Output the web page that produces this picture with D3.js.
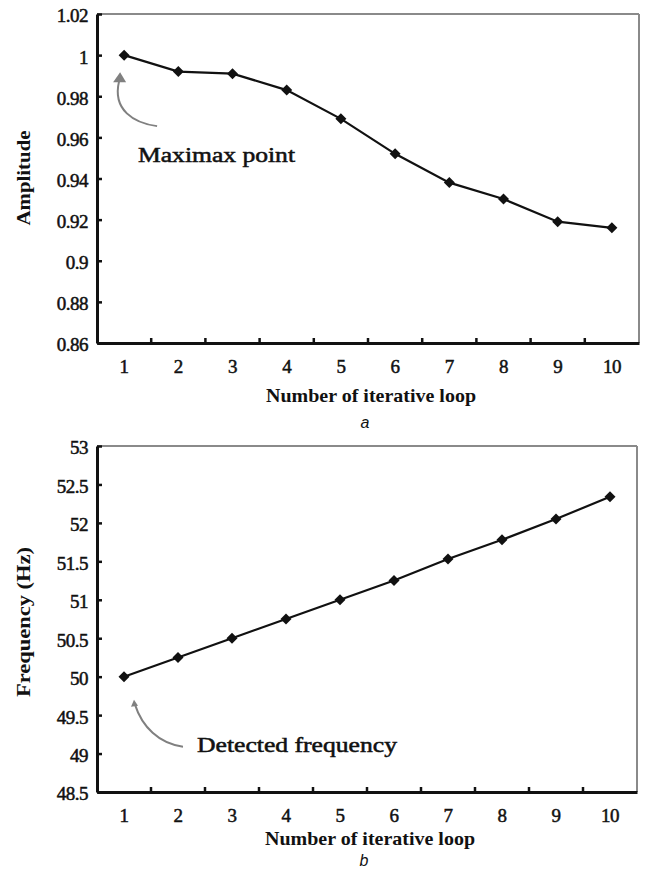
<!DOCTYPE html>
<html>
<head>
<meta charset="utf-8">
<script src="https://cdn.jsdelivr.net/npm/d3@7"></script>
<style>
  html, body { margin: 0; padding: 0; background: #fff; }
  svg { display: block; }
  text { font-family: "Liberation Serif", "Times New Roman", serif; fill: #111; }
  text.caption { font-family: "Liberation Sans", Arial, sans-serif; font-style: italic; }
</style>
</head>
<body>
<svg id="chart" width="645" height="870"></svg>
<script>
// Iteration index shared by both panels
const loops = [1, 2, 3, 4, 5, 6, 7, 8, 9, 10];

// Panel a: amplitude per iterative loop
const amplitude = [1.0, 0.992, 0.991, 0.983, 0.969, 0.952, 0.938, 0.930, 0.919, 0.916];
const ampTicks = [0.86, 0.88, 0.9, 0.92, 0.94, 0.96, 0.98, 1, 1.02];
const ampTickLabels = ["0.86", "0.88", "0.9", "0.92", "0.94", "0.96", "0.98", "1", "1.02"];

// Panel b: detected frequency per iterative loop
const frequency = [50.0, 50.25, 50.5, 50.75, 51.0, 51.25, 51.53, 51.78, 52.05, 52.34];
const freqTicks = [48.5, 49, 49.5, 50, 50.5, 51, 51.5, 52, 52.5, 53];
const freqTickLabels = ["48.5", "49", "49.5", "50", "50.5", "51", "51.5", "52", "52.5", "53"];

const svg = d3.select("#chart");

function panel(cfg) {
  const g = svg.append("g");
  const { left, right, top, bottom } = cfg.box;

  const x = d3.scaleBand().domain(loops).range([left, right]);
  const y = d3.scaleLinear().domain(cfg.domain).range([bottom, top]);

  // frame: thin grey top/right, heavy black left/bottom
  g.append("line").attr("x1", left).attr("x2", right).attr("y1", top).attr("y2", top)
    .attr("stroke", "#8a8a8a").attr("stroke-width", 2);
  g.append("line").attr("x1", right).attr("x2", right).attr("y1", top).attr("y2", bottom)
    .attr("stroke", "#8a8a8a").attr("stroke-width", 2);

  // y axis with inward ticks
  const yAxis = d3.axisLeft(y).tickValues(cfg.ticks)
    .tickFormat((d, i) => cfg.tickLabels[i]).tickSizeInner(-5).tickSizeOuter(0).tickPadding(9);
  const ya = g.append("g").attr("transform", `translate(${left},0)`).call(yAxis);
  ya.select(".domain").attr("stroke", "#111").attr("stroke-width", 3);
  ya.selectAll(".tick line").attr("stroke", "#111").attr("stroke-width", 2.5);
  ya.selectAll(".tick text").attr("font-size", 19).attr("fill", "#111").attr("dy", "0.42em")
    .attr("letter-spacing", "-0.5px").attr("stroke", "#111").attr("stroke-width", 0.5);

  // x axis: labels at band centres, ticks at band boundaries pointing up
  const xAxis = d3.axisBottom(x).tickSize(0).tickPadding(17);
  const xa = g.append("g").attr("transform", `translate(0,${bottom})`).call(xAxis);
  xa.select(".domain").attr("stroke", "#111").attr("stroke-width", 3);
  xa.selectAll(".tick text").attr("font-size", 19).attr("fill", "#111")
    .attr("letter-spacing", "-0.5px").attr("stroke", "#111").attr("stroke-width", 0.5);
  g.append("g").selectAll("line").data(loops.slice(1)).join("line")
    .attr("x1", d => x(d)).attr("x2", d => x(d))
    .attr("y1", bottom).attr("y2", bottom - 5)
    .attr("stroke", "#111").attr("stroke-width", 2.5);

  // titles
  g.append("text").attr("x", (left + right) / 2 + 3).attr("y", cfg.xTitleY)
    .attr("text-anchor", "middle").attr("font-size", 19).attr("font-weight", "bold")
    .attr("textLength", 210).attr("lengthAdjust", "spacingAndGlyphs")
    .text("Number of iterative loop");
  g.append("text")
    .attr("transform", `translate(30,${cfg.yTitleCy}) rotate(-90)`)
    .attr("text-anchor", "middle").attr("font-size", 19).attr("font-weight", "bold")
    .attr("textLength", cfg.yTitleLen).attr("lengthAdjust", "spacingAndGlyphs")
    .text(cfg.yTitle);
  g.append("text").attr("class", "caption")
    .attr("x", (left + right) / 2 - 3).attr("y", cfg.captionY)
    .attr("text-anchor", "middle").attr("font-size", 16).text(cfg.caption);

  // data line with diamond markers
  const pts = loops.map((d, i) => [x(d) + x.bandwidth() / 2, y(cfg.values[i])]);
  g.append("path").attr("d", d3.line()(pts))
    .attr("fill", "none").attr("stroke", "#111").attr("stroke-width", 2.2);
  g.append("g").selectAll("path").data(pts).join("path")
    .attr("transform", d => `translate(${d[0]},${d[1]})`)
    .attr("d", "M0,-5.5L5.5,0L0,5.5L-5.5,0Z").attr("fill", "#111");

  // annotation arrow and label
  const p0 = pts[0];
  g.append("path")
    .attr("d", cfg.arrowPath(p0))
    .attr("fill", "none").attr("stroke", "#808080").attr("stroke-width", 2);
  g.append("path")
    .attr("d", cfg.headPath(p0))
    .attr("fill", "#808080");
  g.append("text").attr("x", cfg.noteX).attr("y", cfg.noteY)
    .attr("font-size", 20).attr("textLength", cfg.noteLen).attr("lengthAdjust", "spacingAndGlyphs")
    .attr("stroke", "#111").attr("stroke-width", 0.5)
    .text(cfg.note);
}

panel({
  box: { left: 97, right: 639, top: 14, bottom: 343 },
  domain: [0.86, 1.02],
  ticks: ampTicks, tickLabels: ampTickLabels,
  values: amplitude,
  yTitle: "Amplitude", yTitleCy: 178, yTitleLen: 95,
  xTitleY: 402, caption: "a", captionY: 428,
  note: "Maximax point", noteX: 138, noteY: 162, noteLen: 157,
  arrowPath: p => `M${p[0] + 33},${p[1] + 71} C${p[0] + 10},${p[1] + 68} ${p[0] - 12},${p[1] + 55} ${p[0] - 5},${p[1] + 26}`,
  headPath: p => `M${p[0] - 4},${p[1] + 17} L${p[0] - 11},${p[1] + 27} L${p[0] + 2},${p[1] + 27} Z`
});

panel({
  box: { left: 97, right: 637, top: 446, bottom: 792 },
  domain: [48.5, 53],
  ticks: freqTicks, tickLabels: freqTickLabels,
  values: frequency,
  yTitle: "Frequency (Hz)", yTitleCy: 622, yTitleLen: 150,
  xTitleY: 845, caption: "b", captionY: 866,
  note: "Detected frequency", noteX: 197, noteY: 752, noteLen: 200,
  arrowPath: p => `M${p[0] + 59},${p[1] + 70} C${p[0] + 35},${p[1] + 67} ${p[0] + 18},${p[1] + 50} ${p[0] + 11},${p[1] + 28}`,
  headPath: p => `M${p[0] + 10},${p[1] + 23} L${p[0] + 7},${p[1] + 30} L${p[0] + 14},${p[1] + 29} Z`
});
</script>
</body>
</html>
